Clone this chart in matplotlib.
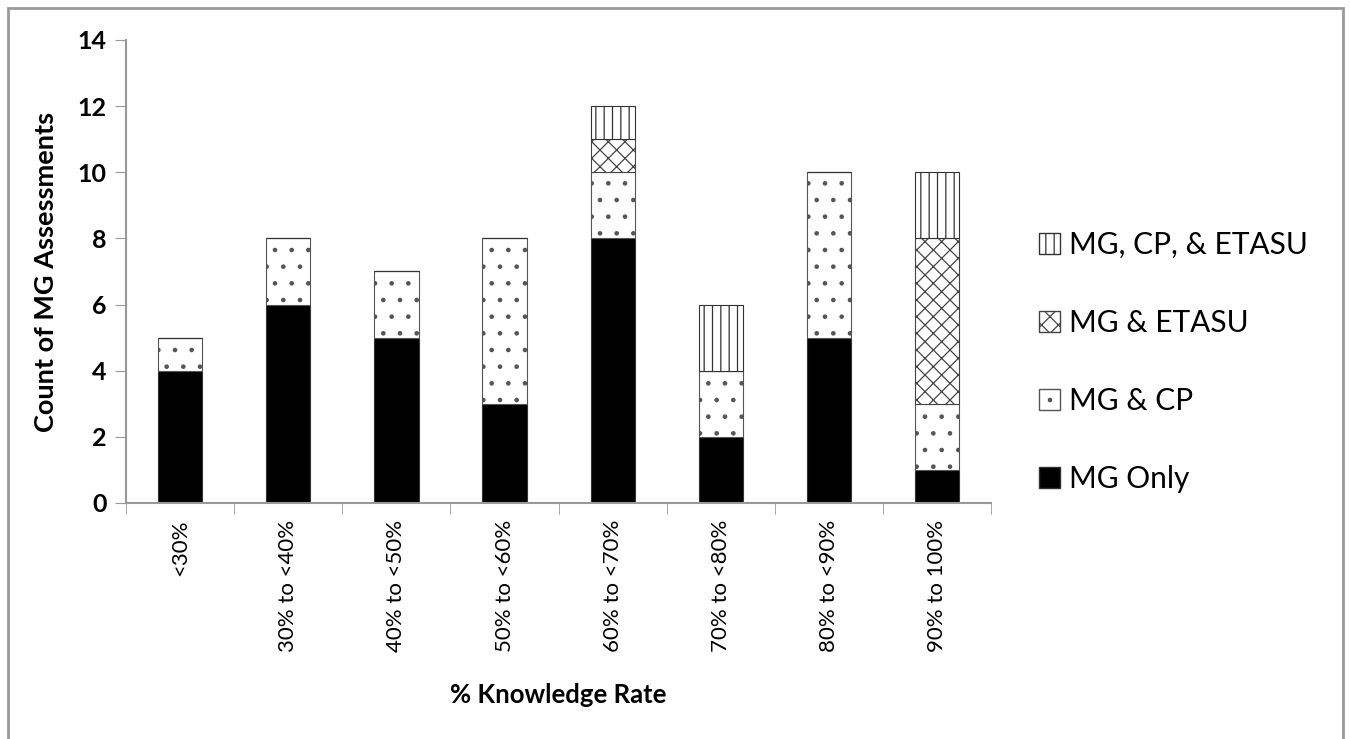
import matplotlib
matplotlib.use('Agg')
import matplotlib.pyplot as plt
from matplotlib.patches import Rectangle, Patch
import numpy as np

plt.rcParams['font.family'] = ['Lato', 'DejaVu Sans']
plt.rcParams['hatch.linewidth'] = 0.9

# Data
categories = ['<30%', '30% to <40%', '40% to <50%', '50% to <60%',
              '60% to <70%', '70% to <80%', '80% to <90%', '90% to 100%']
mg_only = [4, 6, 5, 3, 8, 2, 5, 1]
mg_cp = [1, 2, 2, 5, 2, 2, 5, 2]
mg_etasu = [0, 0, 0, 0, 1, 0, 0, 5]
mg_cp_etasu = [0, 0, 0, 0, 1, 2, 0, 2]

fig = plt.figure(figsize=(13.5, 7.39), dpi=100)
ax = fig.add_axes([0.0933, 0.3194, 0.641, 0.6265])

x = np.arange(len(categories))
w = 0.41
edge = '#333333'

b0 = np.zeros(len(categories))
ax.bar(x, mg_only, w, bottom=b0, color='black', edgecolor=edge, linewidth=0.8)
b1 = b0 + np.array(mg_only)
ax.bar(x, mg_cp, w, bottom=b1, color='white', edgecolor='#555555', hatch='.', linewidth=0.8)
b2 = b1 + np.array(mg_cp)
ax.bar(x, mg_etasu, w, bottom=b2, color='white', edgecolor='#444444', hatch='xx', linewidth=0.8)
b3 = b2 + np.array(mg_etasu)
ax.bar(x, mg_cp_etasu, w, bottom=b3, color='white', edgecolor='#333333', hatch='||', linewidth=0.8)

ax.set_xlim(-0.5, len(categories) - 0.5)
ax.set_ylim(0, 14)
ax.set_yticks(range(0, 15, 2))
ax.set_xticks(x)
ax.set_xticklabels(categories, rotation=90, fontsize=16)
ax.set_xticks(np.arange(-0.5, len(categories), 1), minor=True)
ax.tick_params(axis='x', which='major', length=0, pad=12)
ax.tick_params(axis='x', which='minor', length=8, color='#999999', direction='out')
ax.tick_params(axis='y', length=8, color='#999999', direction='out', labelsize=18, pad=6)
for lab in ax.get_yticklabels():
    lab.set_fontweight('bold')

for s in ['top', 'right']:
    ax.spines[s].set_visible(False)
for s in ['left', 'bottom']:
    ax.spines[s].set_color('#999999')
    ax.spines[s].set_linewidth(1.5)

ax.set_ylabel('Count of MG Assessments', fontsize=19.5, fontweight='bold', labelpad=14)
ax.set_xlabel('% Knowledge Rate', fontsize=18.5, fontweight='bold', labelpad=22)

handles = [
    Patch(facecolor='white', edgecolor='#333333', hatch='||', label='MG, CP, & ETASU'),
    Patch(facecolor='white', edgecolor='#444444', hatch='xx', label='MG & ETASU'),
    Patch(facecolor='white', edgecolor='#555555', hatch='.', label='MG & CP'),
    Patch(facecolor='black', edgecolor=edge, label='MG Only'),
]
fig.legend(handles=handles, loc='center left', bbox_to_anchor=(0.75, 0.51),
           frameon=False, fontsize=21.5, handlelength=0.7, handleheight=0.7,
           handletextpad=0.3, labelspacing=1.68)

# outer frame
fig.add_artist(Rectangle((8 / 1350, -0.1), 1335 / 1350, 1.1 - 8 / 739,
                         transform=fig.transFigure, fill=False,
                         edgecolor='#999999', linewidth=2))

fig.savefig('out.png', dpi=100, facecolor='white')
